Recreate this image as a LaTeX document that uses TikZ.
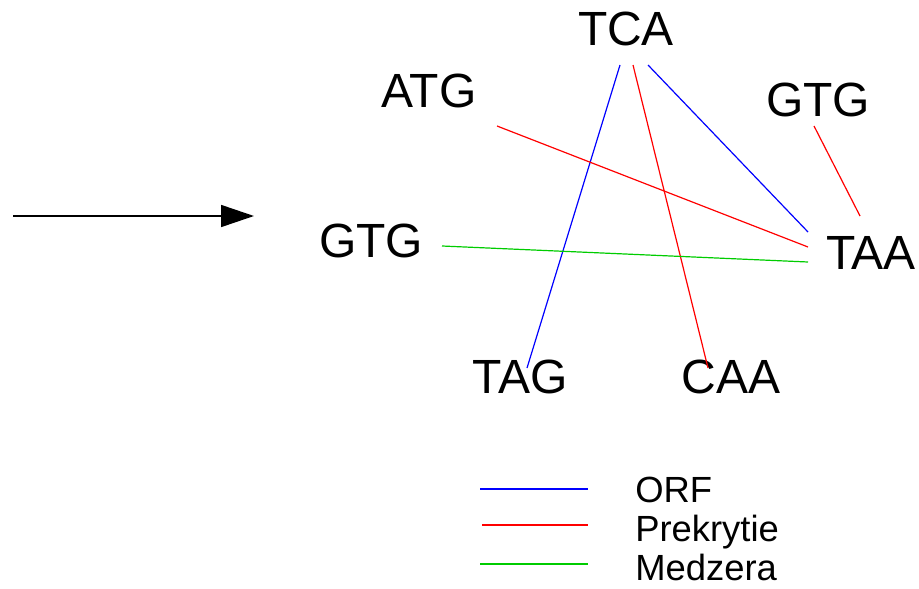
\documentclass[tikz,border=0pt]{standalone}
\usepackage{fontspec}
\setmainfont{Liberation Sans}
\usetikzlibrary{arrows.meta}
\definecolor{lblue}{RGB}{0,0,255}
\definecolor{lred}{RGB}{255,0,0}
\definecolor{lgreen}{RGB}{0,204,0}
\tikzset{
  codon/.style={anchor=base, inner sep=0pt, font=\fontsize{36}{42}\selectfont},
  legtext/.style={anchor=base west, inner sep=0pt, font=\fontsize{27.3}{32}\selectfont},
  orfline/.style={color=lblue, line width=0.9pt},
  overline/.style={color=lred, line width=0.9pt},
  gapline/.style={color=lgreen, line width=0.9pt},
}
\begin{document}
\begin{tikzpicture}[x=0.75pt,y=-0.75pt]
\useasboundingbox (0,0) rectangle (919,588);
% codons
\node[codon] (TCA) at (626,46) {TCA};
\node[codon] (ATG) at (429,108) {ATG};
\node[codon] (GTGr) at (818,117) {GTG};
\node[codon] (GTGl) at (371,257) {GTG};
\node[codon] (TAA) at (871,269) {TAA};
\node[codon] (TAG) at (520,393) {TAG};
\node[codon] (CAA) at (731,393) {CAA};
% arrow
\coordinate (a1) at (13,216);
\coordinate (a2) at (254,216);
\draw[line width=1.2pt, -{Triangle[length=24.75pt,width=16.5pt]}] (a1) -- (a2);
% connectors
\draw[orfline] ([shift={(-6,19)}]TCA.base) -- ([shift={(7,-25)}]TAG.base);
\draw[overline] ([shift={(7,19)}]TCA.base) -- ([shift={(-23,-25)}]CAA.base);
\draw[orfline] ([shift={(22,19)}]TCA.base) -- ([shift={(-63,-37)}]TAA.base);
\draw[overline] ([shift={(68,18)}]ATG.base) -- ([shift={(-63,-22)}]TAA.base);
\draw[overline] ([shift={(-4,9)}]GTGr.base) -- ([shift={(-11,-53)}]TAA.base);
\draw[gapline] ([shift={(71,-11)}]GTGl.base) -- ([shift={(-63,-7)}]TAA.base);
% legend
\coordinate (la1) at (480,489); \coordinate (lb1) at (588,489);
\coordinate (la2) at (482,525); \coordinate (lb2) at (588,525);
\coordinate (la3) at (480,564); \coordinate (lb3) at (588,564);
\draw[orfline] (la1) -- (lb1);
\draw[overline] (la2) -- (lb2);
\draw[gapline] (la3) -- (lb3);
\node[legtext] (tORF) at (635,502) {ORF};
\node[legtext] (tPre) at (635,541) {Prekrytie};
\node[legtext] (tMed) at (635,580) {Medzera};
\end{tikzpicture}
\end{document}
